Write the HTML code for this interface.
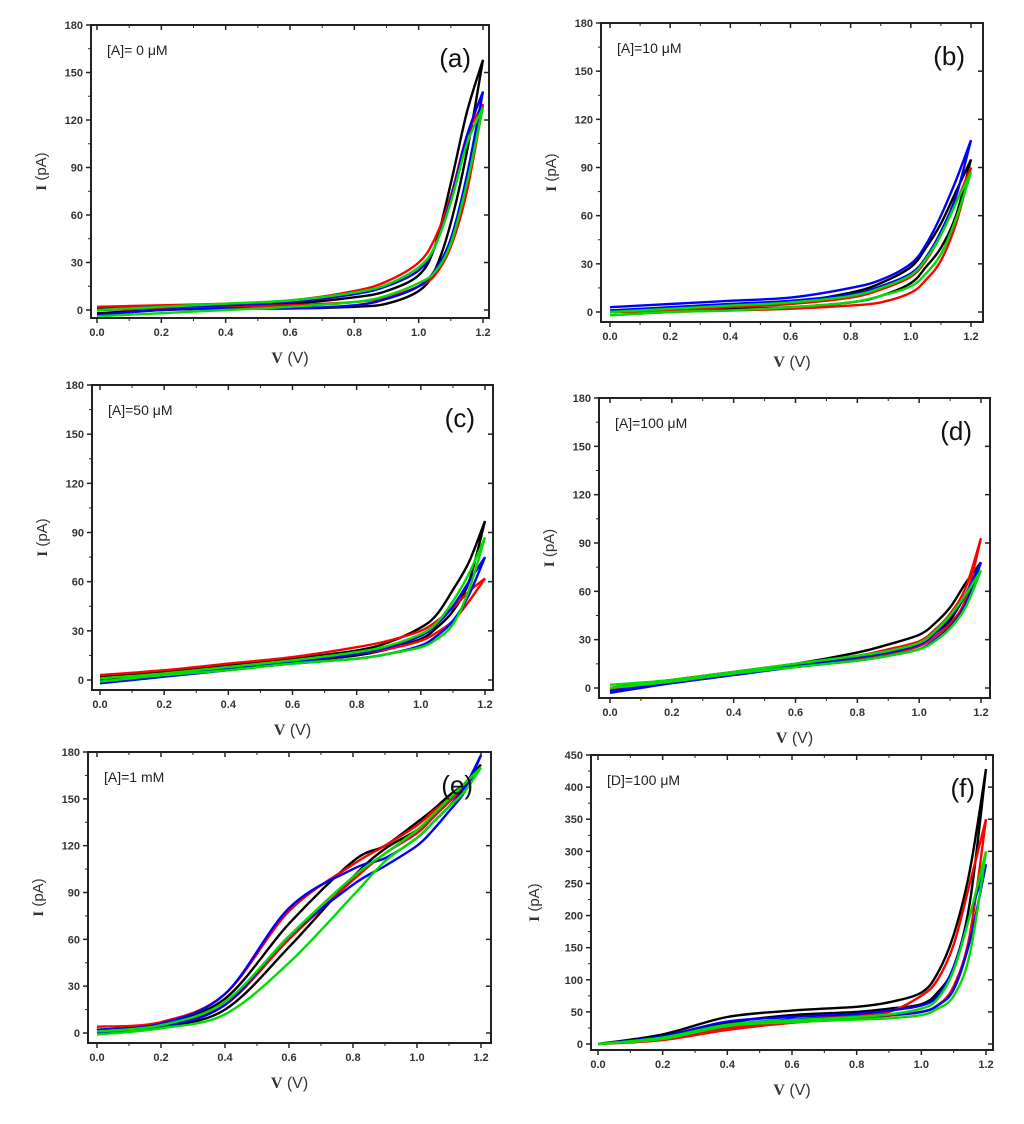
<!DOCTYPE html>
<html><head><meta charset="utf-8"><style>
body{margin:0;background:#fff;}
svg text{font-family:"Liberation Sans",sans-serif;}
</style></head><body>
<svg id="fig" width="1024" height="1119" viewBox="0 0 1024 1119" xmlns="http://www.w3.org/2000/svg"></svg>
<script>
// Shared voltage grid (V)
const voltages=[0,0.2,0.4,0.6,0.8,0.9,1.0,1.05,1.1,1.15,1.2];
const seriesColors=["#000000","#ff0000","#0000ff","#00dd00"];
const xTicks=["0.0","0.2","0.4","0.6","0.8","1.0","1.2"];
// panel (a)
const aBlackHi=[1,2,3,4,8,12,22,40,80,125,158], aBlackLo=[-2,0,1,1,2,4,12,25,55,100,158];
const aRedHi=[2,3,4,6,12,18,30,45,72,110,130], aRedLo=[0,1,2,3,5,8,15,22,40,75,130];
const aBlueHi=[0,2,3,5,10,15,25,40,70,110,138], aBlueLo=[-3,0,1,1,3,7,15,25,45,85,138];
const aGreenHi=[0,2,4,6,11,16,27,40,68,105,128], aGreenLo=[-4,-2,0,2,5,9,17,24,42,80,128];
// panel (b)
const bBlackHi=[0,2,4,6,12,18,28,40,55,75,95], bBlackLo=[0,1,2,3,6,10,18,28,40,60,95];
const bRedHi=[0,1,3,5,9,14,22,32,48,68,90], bRedLo=[-2,0,1,2,4,6,12,20,32,55,90];
const bBlueHi=[3,5,7,9,15,20,30,42,60,82,107], bBlueLo=[1,3,5,7,11,16,24,34,50,72,107];
const bGreenHi=[0,2,4,6,10,15,23,33,48,68,87], bGreenLo=[-2,0,1,3,6,10,16,24,36,58,87];
// panel (c)
const cBlackHi=[2,5,9,13,18,23,32,40,55,72,97], cBlackLo=[0,3,7,11,15,19,25,32,42,60,97];
const cRedHi=[3,6,10,14,20,24,30,36,44,54,62], cRedLo=[1,4,8,12,16,19,24,29,36,48,62];
const cBlueHi=[-1,3,7,11,16,20,27,34,45,60,75], cBlueLo=[-2,2,6,10,13,16,21,27,36,52,75];
const cGreenHi=[1,4,8,12,17,21,28,35,48,65,87], cGreenLo=[-1,3,6,10,13,16,20,25,34,55,87];
// panel (d)
const dBlackHi=[0,5,10,15,22,27,33,40,50,65,78], dBlackLo=[-1,4,9,14,19,23,28,34,42,58,78];
const dRedHi=[0,5,10,15,20,24,29,36,46,62,93], dRedLo=[-1,4,9,14,18,21,26,32,40,55,93];
const dBlueHi=[-2,4,9,14,19,22,27,34,44,58,78], dBlueLo=[-3,3,8,13,17,20,24,30,38,52,78];
const dGreenHi=[2,5,10,15,20,23,28,35,45,58,73], dGreenLo=[0,4,9,13,17,20,24,29,37,50,73];
// panel (e)
const eBlackHi=[2,6,22,70,110,120,135,143,152,160,172], eBlackLo=[0,4,15,55,100,118,130,140,150,160,172];
const eRedHi=[4,7,25,78,108,120,133,142,150,160,170], eRedLo=[2,5,18,60,98,115,128,138,148,158,170];
const eBlueHi=[2,6,25,80,105,112,125,135,145,158,178], eBlueLo=[0,4,18,62,95,107,120,130,142,155,178];
const eGreenHi=[1,5,20,62,100,115,130,140,150,160,170], eGreenLo=[-1,3,12,45,88,110,125,135,145,155,170];
// panel (f)
const fBlackHi=[0,15,42,52,58,65,80,110,170,270,428], fBlackLo=[0,10,33,45,50,55,62,80,120,220,428];
const fRedHi=[0,8,25,37,45,50,75,100,155,250,350], fRedLo=[0,6,22,33,40,44,50,60,90,170,350];
const fBlueHi=[0,12,35,42,47,52,60,75,120,200,280], fBlueLo=[0,10,30,38,42,45,50,60,85,160,280];
const fGreenHi=[0,10,30,37,42,46,55,70,115,200,300], fGreenLo=[0,8,28,34,38,40,45,55,75,140,300];
const yTicksA=[0,30,60,90,120,150,180];
const yTicksF=[0,50,100,150,200,250,300,350,400,450];

const NS="http://www.w3.org/2000/svg";
const svg=document.getElementById("fig");
function mk(tag,attrs,parent){const e=document.createElementNS(NS,tag);for(const k in attrs)e.setAttribute(k,attrs[k]);(parent||svg).appendChild(e);return e;}
function smooth(pts){let d="M"+pts[0][0].toFixed(1)+","+pts[0][1].toFixed(1);
 for(let i=0;i<pts.length-1;i++){const p0=pts[Math.max(0,i-1)],p1=pts[i],p2=pts[i+1],p3=pts[Math.min(pts.length-1,i+2)];
  const c1=[p1[0]+(p2[0]-p0[0])/6,p1[1]+(p2[1]-p0[1])/6],c2=[p2[0]-(p3[0]-p1[0])/6,p2[1]-(p3[1]-p1[1])/6];
  d+=" C"+c1[0].toFixed(1)+","+c1[1].toFixed(1)+" "+c2[0].toFixed(1)+","+c2[1].toFixed(1)+" "+p2[0].toFixed(1)+","+p2[1].toFixed(1);}
 return d;}

function panel(cfg){
 const g=mk("g",{});
 
 
 const X=v=>cfg.x0+(v/1.2)*(cfg.x1-cfg.x0);
 const Y=i=>cfg.y0-(i/cfg.ymax)*(cfg.y0-cfg.ytop);
 cfg.series.forEach((s,k)=>{
  const hi=voltages.map((v,j)=>[X(v),Y(s[0][j])]);
  const lo=voltages.map((v,j)=>[X(v),Y(s[1][j])]);
  const p=mk("path",{d:smooth(lo)+" "+smooth(hi.slice().reverse()).replace("M","L"),fill:"none",stroke:seriesColors[k],"stroke-width":2.4},g);
  
  
 });
 const fr=mk("rect",{x:cfg.bl,y:cfg.bt,width:cfg.br-cfg.bl,height:cfg.bb-cfg.bt,fill:"none",stroke:"#222","stroke-width":2},g);
 
 
 xTicks.forEach((t,i)=>{const v=i*0.2,xx=X(v);
  mk("line",{x1:xx,x2:xx,y1:cfg.bb,y2:cfg.bb+5,stroke:"#222","stroke-width":1.5},g);
  mk("line",{x1:xx,x2:xx,y1:cfg.bt,y2:cfg.bt+5,stroke:"#222","stroke-width":1.5},g);
  if(i<6){const xm=X(v+0.1);mk("line",{x1:xm,x2:xm,y1:cfg.bb,y2:cfg.bb+3,stroke:"#222","stroke-width":1},g);mk("line",{x1:xm,x2:xm,y1:cfg.bt,y2:cfg.bt+3,stroke:"#222","stroke-width":1},g);}
  const tx=mk("text",{x:xx,y:cfg.bb+18,"text-anchor":"middle","font-size":11,"font-weight":"bold",fill:"#333"},g);tx.textContent=t;
  
  
 });
 const yt=cfg.yticks,step=yt[1]-yt[0];
 yt.forEach((t,i)=>{const yy=Y(t);
  mk("line",{x1:cfg.bl-5,x2:cfg.bl,y1:yy,y2:yy,stroke:"#222","stroke-width":1.5},g);
  mk("line",{x1:cfg.br-5,x2:cfg.br,y1:yy,y2:yy,stroke:"#222","stroke-width":1.5},g);
  if(i<yt.length-1){const ym=Y(t+step/2);mk("line",{x1:cfg.bl-3,x2:cfg.bl,y1:ym,y2:ym,stroke:"#222","stroke-width":1},g);}
  const tx=mk("text",{x:cfg.bl-8,y:yy+4,"text-anchor":"end","font-size":11,"font-weight":"bold",fill:"#333"},g);tx.textContent=t;
  
  
 });
 const cx=(cfg.bl+cfg.br)/2;
 const xt=mk("text",{x:cx,y:cfg.bb+45,"text-anchor":"middle","font-size":16,fill:"#333"},g);
 xt.innerHTML='<tspan font-family="Liberation Serif" font-weight="bold">V</tspan> (V)';
 
 
 const cy=(cfg.bt+cfg.bb)/2,ax=cfg.bl-(cfg.letter==="f"?52:45);
 const ytt=mk("text",{x:ax,y:cy,"text-anchor":"middle","font-size":15,fill:"#333",transform:`rotate(-90 ${ax} ${cy})`},g);
 ytt.innerHTML='<tspan font-family="Liberation Serif" font-weight="bold">I</tspan> (pA)';
 
 
 const an=mk("text",{x:cfg.bl+16,y:cfg.bt+30,"font-size":14,fill:"#222"},g);an.textContent=cfg.label;
 
 
 const pl=mk("text",{x:cfg.br-18,y:cfg.bt+42,"text-anchor":"end","font-size":26,fill:"#111"},g);pl.textContent="("+cfg.letter+")";
 
 
}
panel({letter:"a",label:"[A]= 0 μM",bl:91,br:489,bt:25,bb:318,x0:97,x1:483,y0:310,ytop:25,ymax:180,yticks:yTicksA,
 series:[[aBlackHi,aBlackLo],[aRedHi,aRedLo],[aBlueHi,aBlueLo],[aGreenHi,aGreenLo]]});
panel({letter:"b",label:"[A]=10 μM",bl:601,br:983,bt:23,bb:322,x0:610,x1:971,y0:312,ytop:23,ymax:180,yticks:yTicksA,
 series:[[bBlackHi,bBlackLo],[bRedHi,bRedLo],[bBlueHi,bBlueLo],[bGreenHi,bGreenLo]]});
panel({letter:"c",label:"[A]=50 μM",bl:92,br:493,bt:385,bb:690,x0:100,x1:485,y0:680,ytop:385,ymax:180,yticks:yTicksA,
 series:[[cBlackHi,cBlackLo],[cRedHi,cRedLo],[cBlueHi,cBlueLo],[cGreenHi,cGreenLo]]});
panel({letter:"d",label:"[A]=100 μM",bl:599,br:990,bt:398,bb:698,x0:610,x1:981,y0:688,ytop:398,ymax:180,yticks:yTicksA,
 series:[[dBlackHi,dBlackLo],[dRedHi,dRedLo],[dBlueHi,dBlueLo],[dGreenHi,dGreenLo]]});
panel({letter:"e",label:"[A]=1 mM",bl:88,br:491,bt:752,bb:1043,x0:97,x1:481,y0:1033,ytop:752,ymax:180,yticks:yTicksA,
 series:[[eBlackHi,eBlackLo],[eRedHi,eRedLo],[eBlueHi,eBlueLo],[eGreenHi,eGreenLo]]});
panel({letter:"f",label:"[D]=100 μM",bl:591,br:993,bt:755,bb:1050,x0:598,x1:986,y0:1044,ytop:755,ymax:450,yticks:yTicksF,
 series:[[fBlackHi,fBlackLo],[fRedHi,fRedLo],[fBlueHi,fBlueLo],[fGreenHi,fGreenLo]]});
</script>
</body></html>
